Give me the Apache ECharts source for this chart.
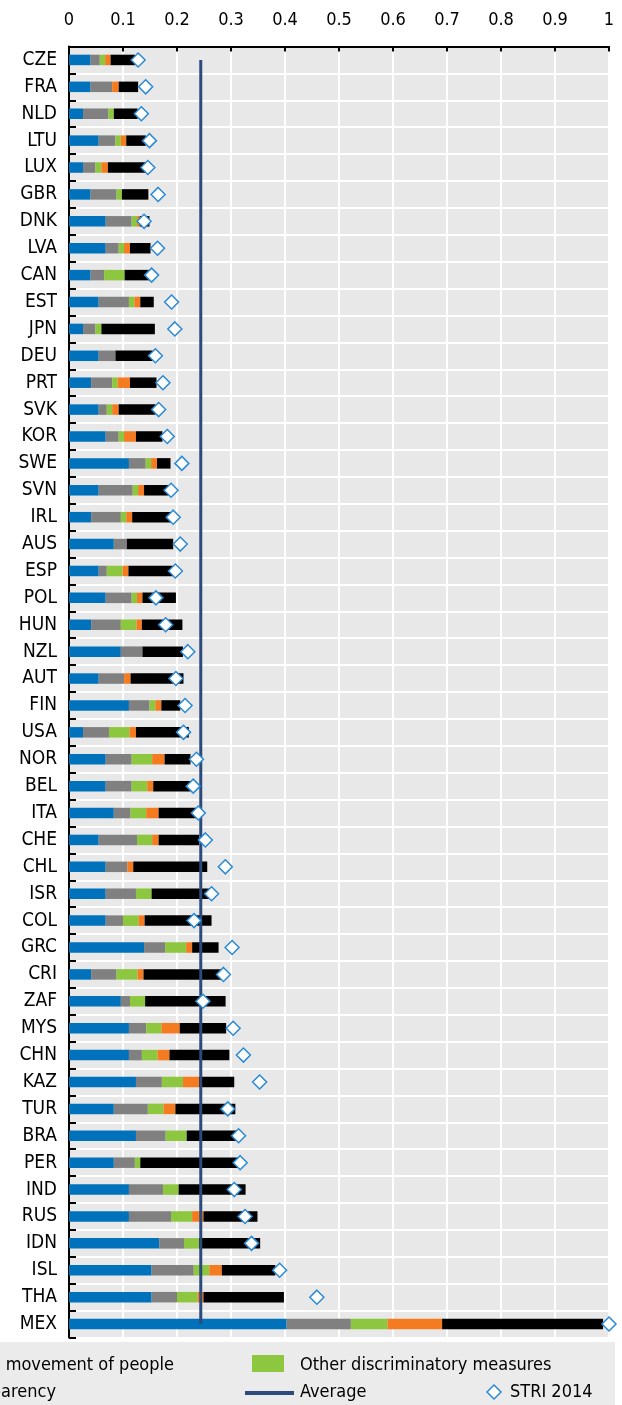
<!DOCTYPE html>
<html>
<head>
<meta charset="utf-8">
<script src="https://cdn.jsdelivr.net/npm/echarts@6/dist/echarts.min.js"></script>
<style>
  html, body { margin: 0; padding: 0; background: #fff; }
  #chart { width: 622px; height: 1405px; }
</style>
</head>
<body>
<div id="chart"></div>
<script>
  // countries, top to bottom
  var countries = ['CZE', 'FRA', 'NLD', 'LTU', 'LUX', 'GBR', 'DNK', 'LVA', 'CAN', 'EST', 'JPN', 'DEU',
    'PRT', 'SVK', 'KOR', 'SWE', 'SVN', 'IRL', 'AUS', 'ESP', 'POL', 'HUN', 'NZL', 'AUT', 'FIN', 'USA',
    'NOR', 'BEL', 'ITA', 'CHE', 'CHL', 'ISR', 'COL', 'GRC', 'CRI', 'ZAF', 'MYS', 'CHN', 'KAZ', 'TUR',
    'BRA', 'PER', 'IND', 'RUS', 'IDN', 'ISL', 'THA', 'MEX']

  var foreignEntry = [0.040, 0.040, 0.026, 0.055, 0.026, 0.040, 0.068, 0.068, 0.040, 0.055, 0.026, 0.055,
    0.041, 0.055, 0.068, 0.111, 0.055, 0.041, 0.083, 0.055, 0.068, 0.041, 0.096, 0.055, 0.111, 0.026,
    0.068, 0.068, 0.083, 0.055, 0.068, 0.068, 0.068, 0.139, 0.041, 0.096, 0.111, 0.111, 0.124, 0.083,
    0.124, 0.083, 0.111, 0.111, 0.167, 0.153, 0.153, 0.403]
  var movementPeople = [0.017, 0.040, 0.047, 0.031, 0.023, 0.048, 0.048, 0.024, 0.025, 0.056, 0.023, 0.031,
    0.039, 0.015, 0.024, 0.031, 0.063, 0.055, 0.024, 0.015, 0.048, 0.055, 0.040, 0.047, 0.038, 0.048,
    0.048, 0.048, 0.031, 0.071, 0.040, 0.056, 0.032, 0.039, 0.047, 0.017, 0.032, 0.024, 0.048, 0.063,
    0.055, 0.039, 0.063, 0.078, 0.046, 0.078, 0.047, 0.119]
  var otherDiscrim = [0.010, 0, 0.010, 0.010, 0.011, 0.010, 0.010, 0.010, 0.038, 0.010, 0.011, 0,
    0.010, 0.010, 0.010, 0.010, 0.010, 0.010, 0, 0.029, 0.010, 0.029, 0, 0, 0.011, 0.038,
    0.038, 0.029, 0.029, 0.028, 0, 0.029, 0.029, 0.039, 0.039, 0.028, 0.028, 0.029, 0.039, 0.029,
    0.039, 0.010, 0.029, 0.039, 0.028, 0.029, 0.038, 0.068]
  var barriersComp = [0.010, 0.012, 0, 0.010, 0.012, 0, 0.005, 0.011, 0, 0.011, 0, 0,
    0.023, 0.012, 0.022, 0.011, 0.011, 0.011, 0, 0.011, 0.010, 0.010, 0, 0.012, 0.011, 0.012,
    0.023, 0.011, 0.023, 0.012, 0.011, 0, 0.011, 0.011, 0.011, 0, 0.034, 0.022, 0.030, 0.022,
    0, 0, 0, 0.021, 0, 0.023, 0.011, 0.101]
  var regTransparency = [0.045, 0.036, 0.044, 0.036, 0.070, 0.049, 0.018, 0.038, 0.045, 0.025, 0.099, 0.069,
    0.049, 0.068, 0.049, 0.025, 0.045, 0.073, 0.086, 0.082, 0.062, 0.075, 0.075, 0.098, 0.035, 0.098,
    0.048, 0.069, 0.072, 0.075, 0.137, 0.109, 0.124, 0.049, 0.146, 0.149, 0.086, 0.111, 0.065, 0.111,
    0.092, 0.181, 0.124, 0.100, 0.113, 0.099, 0.149, 0.298]
  var stri2014 = [0.128, 0.142, 0.134, 0.149, 0.146, 0.165, 0.139, 0.164, 0.153, 0.190, 0.196, 0.160,
    0.174, 0.166, 0.182, 0.209, 0.189, 0.193, 0.206, 0.197, 0.161, 0.179, 0.220, 0.198, 0.215, 0.212,
    0.236, 0.230, 0.2395, 0.2525, 0.2895, 0.264, 0.2315, 0.302, 0.286, 0.248, 0.304, 0.323, 0.353, 0.294,
    0.314, 0.317, 0.306, 0.326, 0.338, 0.390, 0.459, 1.0]
  var avgValue = 0.244

  var segNames = ['Restrictions on foreign entry', 'Restrictions on the movement of people',
    'Other discriminatory measures', 'Barriers to competition', 'Regulatory transparency']
  var segColors = ['#0072bc', '#808080', '#8dc63f', '#f47b20', '#000000']
  var avgColor = '#2a4b7c'
  var diamondColor = '#2a8ad4'
  var fontFam = "'Liberation Sans Narrow', 'Arial Narrow', 'DejaVu Sans Condensed', sans-serif"

  var myChart = echarts.init(document.getElementById('chart'))

  var segData = [foreignEntry, movementPeople, otherDiscrim, barriersComp, regTransparency]
  var series = segData.map(function (d, i) {
    return {
      name: segNames[i],
      type: 'bar',
      stack: 'stri',
      barWidth: 10.5,
      itemStyle: { color: segColors[i] },
      data: d,
      z: 2
    }
  })
  series.push({
    name: 'Average',
    type: 'line',
    data: [[avgValue, countries[0]], [avgValue, countries[countries.length - 1]]],
    symbol: 'none',
    lineStyle: { color: avgColor, width: 3 },
    z: 3
  })
  series.push({
    name: 'STRI 2014',
    type: 'scatter',
    symbol: 'diamond',
    symbolSize: 14,
    itemStyle: { color: '#ffffff', borderColor: diamondColor, borderWidth: 1.5, opacity: 1 },
    data: stri2014.map(function (v, i) { return [v, countries[i]] }),
    z: 4
  })

  var legendFont = { fontSize: 18, fontFamily: fontFam, fill: '#000' }
  function legendText (txt, x, y, align) {
    return {
      type: 'text', x: x, y: y,
      style: Object.assign({ text: txt, textAlign: align || 'left', textVerticalAlign: 'middle' }, legendFont)
    }
  }

  myChart.setOption({
    animation: false,
    backgroundColor: '#ffffff',
    grid: { left: 69, top: 46.5, width: 540, height: 1291, backgroundColor: '#e8e8e8', show: true, borderWidth: 0 },
    xAxis: {
      type: 'value',
      position: 'top',
      min: 0,
      max: 1,
      interval: 0.1,
      axisLine: { show: true, lineStyle: { color: '#000', width: 2 } },
      axisTick: { show: true, inside: true, length: 5, lineStyle: { color: '#000', width: 2 } },
      axisLabel: { fontSize: 18, fontFamily: fontFam, color: '#000', margin: 17 },
      splitLine: { show: true, lineStyle: { color: '#ffffff', width: 2 } }
    },
    yAxis: {
      type: 'category',
      inverse: true,
      data: countries,
      axisLine: { show: true, lineStyle: { color: '#000', width: 2 } },
      axisTick: { show: true, inside: true, length: 7, lineStyle: { color: '#000', width: 2 } },
      axisLabel: { fontSize: 19, fontFamily: fontFam, color: '#000', margin: 12 },
      splitLine: { show: true, lineStyle: { color: '#ffffff', width: 2 } }
    },
    series: series,
    graphic: [
      { type: 'rect', shape: { x: 0, y: 1342, width: 615, height: 63 }, style: { fill: '#ebebeb' }, z: 0 },
      legendText(segNames[1], 174, 1365, 'right'),
      { type: 'rect', shape: { x: 252, y: 1355, width: 32, height: 17 }, style: { fill: segColors[2] } },
      legendText(segNames[2], 300, 1365),
      legendText(segNames[4], 56, 1392, 'right'),
      { type: 'line', shape: { x1: 245, y1: 1393, x2: 294, y2: 1393 }, style: { stroke: avgColor, lineWidth: 4 } },
      legendText('Average', 300, 1392),
      { type: 'polygon', shape: { points: [[494, 1385], [501, 1392], [494, 1399], [487, 1392]] },
        style: { fill: '#fff', stroke: diamondColor, lineWidth: 1.5 } },
      legendText('STRI 2014', 510, 1392)
    ]
  })
</script>
</body>
</html>
